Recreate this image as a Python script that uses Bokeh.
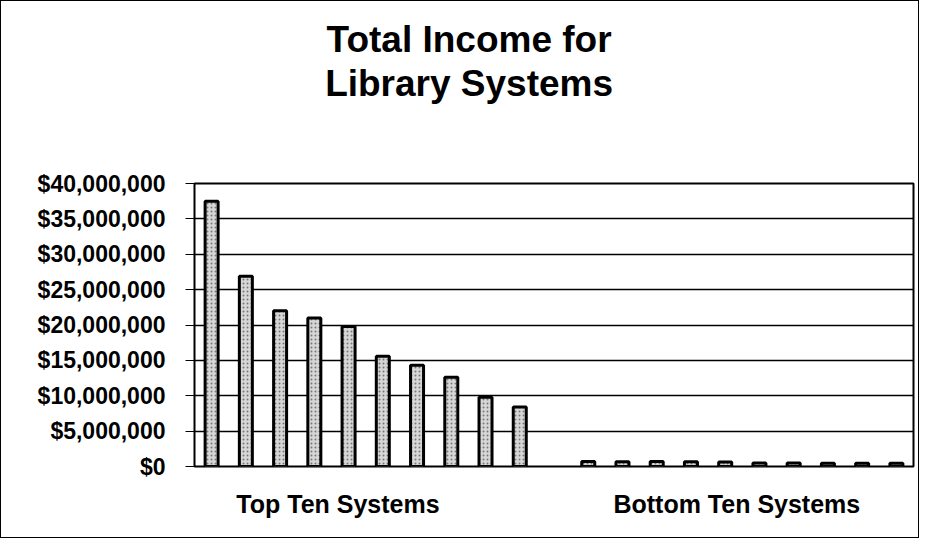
from bokeh.plotting import figure
from bokeh.models import Range1d, FixedTicker, NumeralTickFormatter, LinearAxis, ColumnDataSource
from bokeh.embed import file_html
from bokeh.resources import INLINE

# ---- data ----
top_ten = [37.5e6, 26.9e6, 22.0e6, 21.0e6, 19.8e6, 15.6e6, 14.3e6, 12.6e6, 9.8e6, 8.4e6]
bottom_ten = [0.72e6, 0.68e6, 0.70e6, 0.66e6, 0.65e6, 0.50e6, 0.48e6, 0.47e6, 0.46e6, 0.45e6]
group_labels = ["Top Ten Systems", "Bottom Ten Systems"]
title_lines = ["Total Income for", "Library Systems"]
y_ticks = [0, 5e6, 10e6, 15e6, 20e6, 25e6, 30e6, 35e6, 40e6]

# slot positions: 10 bars, one empty slot, 10 bars
xs = list(range(len(top_ten))) + [len(top_ten) + 1 + i for i in range(len(bottom_ten))]
vals = top_ten + bottom_ten
n_slots = len(top_ten) + 1 + len(bottom_ten)

FONT = "Liberation Sans"

p = figure(width=919, height=538, output_backend="svg", toolbar_location=None,
           x_range=Range1d(-0.5, n_slots - 0.5), y_range=Range1d(0, 40e6),
           min_border_left=193, min_border_right=7, min_border_top=182, min_border_bottom=73,
           background_fill_color="white", border_fill_color="white", x_axis_location=None)
p.styles = {"border": "1px solid black"}

src = ColumnDataSource(dict(x=xs, top=vals))
p.vbar(x="x", top="top", width=0.38, bottom=0, source=src,
       fill_color="#d6d6d6", line_color="black", line_width=3,
       hatch_pattern="dot", hatch_color="#6e6e6e", hatch_scale=4, hatch_alpha=0.9)

p.xgrid.visible = False
p.ygrid.grid_line_color = "black"
p.ygrid.grid_line_width = 1.3

p.yaxis.ticker = FixedTicker(ticks=y_ticks)
p.yaxis.formatter = NumeralTickFormatter(format="$0,0")
p.yaxis.major_label_text_font = FONT
p.yaxis.major_label_text_font_style = "bold"
p.yaxis.major_label_text_font_size = "23px"
p.yaxis.major_label_text_color = "black"
p.yaxis.major_tick_out = 9
p.yaxis.major_tick_in = 0
p.yaxis.minor_tick_line_color = None
p.yaxis.major_tick_line_color = "black"
p.yaxis.axis_line_color = "black"
p.yaxis.major_label_standoff = 20

p.outline_line_color = "black"
p.outline_line_width = 2


def text_axis(ticks, labels, size, standoff):
    return LinearAxis(ticker=FixedTicker(ticks=ticks),
                      major_label_overrides=dict(zip(ticks, labels)),
                      axis_line_color=None, major_tick_line_color=None, minor_tick_line_color=None,
                      major_tick_out=0, major_tick_in=0, major_label_standoff=standoff,
                      major_label_text_font=FONT, major_label_text_font_style="bold",
                      major_label_text_font_size=size, major_label_text_color="black")


# group labels below the frame
p.add_layout(text_axis([3.69, 15.34], group_labels, "25px", 23), "below")

# title lines, stacked outward from the frame
p.add_layout(text_axis([7.52], [title_lines[1]], "37px", 80), "above")
p.add_layout(text_axis([7.52], [title_lines[0]], "37px", 0), "above")

open("out.html", "w").write(file_html(p, INLINE))
